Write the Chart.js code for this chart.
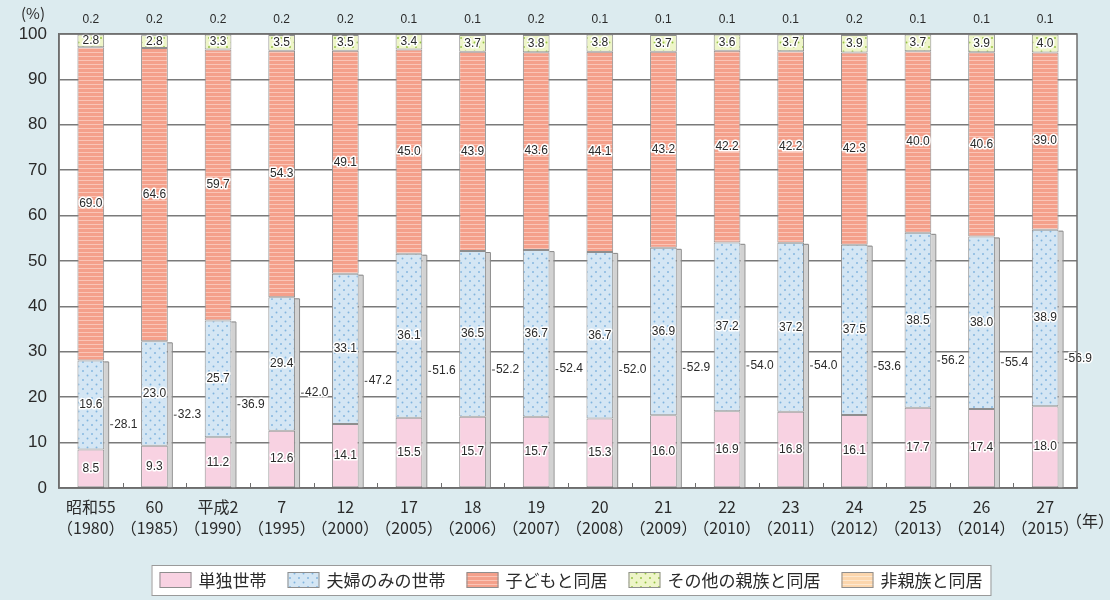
<!DOCTYPE html>
<html>
<head>
<meta charset="utf-8">
<script src="https://cdn.jsdelivr.net/npm/chart.js@4/dist/chart.umd.min.js"></script>
<style>
  html, body { margin: 0; padding: 0; background: #dcebef; }
  #wrap { width: 1110px; height: 600px; }
</style>
</head>
<body>
<div id="wrap"><canvas id="c" width="1110" height="600"></canvas></div>
<script>
// 世帯構造別 65歳以上の者のいる世帯の構成割合 (%)
const eraLabels  = ['昭和55', '60', '平成2', '7', '12', '17', '18', '19', '20', '21', '22', '23', '24', '25', '26', '27'];
const yearLabels = ['1980', '1985', '1990', '1995', '2000', '2005', '2006', '2007', '2008', '2009', '2010', '2011', '2012', '2013', '2014', '2015'];

const single         = [8.5, 9.3, 11.2, 12.6, 14.1, 15.5, 15.7, 15.7, 15.3, 16.0, 16.9, 16.8, 16.1, 17.7, 17.4, 18.0];
const coupleOnly     = [19.6, 23.0, 25.7, 29.4, 33.1, 36.1, 36.5, 36.7, 36.7, 36.9, 37.2, 37.2, 37.5, 38.5, 38.0, 38.9];
const withChildren   = [69.0, 64.6, 59.7, 54.3, 49.1, 45.0, 43.9, 43.6, 44.1, 43.2, 42.2, 42.2, 42.3, 40.0, 40.6, 39.0];
const otherRelatives = [2.8, 2.8, 3.3, 3.5, 3.5, 3.4, 3.7, 3.8, 3.8, 3.7, 3.6, 3.7, 3.9, 3.7, 3.9, 4.0];
const nonRelatives   = [0.2, 0.2, 0.2, 0.2, 0.2, 0.1, 0.1, 0.2, 0.1, 0.1, 0.1, 0.1, 0.2, 0.1, 0.1, 0.1];
// 単独世帯＋夫婦のみの世帯
const singleAndCouple = [28.1, 32.3, 36.9, 42.0, 47.2, 51.6, 52.2, 52.4, 52.0, 52.9, 54.0, 54.0, 53.6, 56.2, 55.4, 56.9];

const yTicks = [0, 10, 20, 30, 40, 50, 60, 70, 80, 90, 100];
const seriesNames = ['単独世帯', '夫婦のみの世帯', '子どもと同居', 'その他の親族と同居', '非親族と同居'];

const NUM_FONT = "'Liberation Sans Narrow', 'Liberation Sans', Arial, sans-serif";
const JP_FONT = "'Noto Sans CJK JP', 'Noto Sans', sans-serif";
const TEXT = '#2a2a2a';

// fill patterns
function tile(w, h, base, paint) {
  const cv = document.createElement('canvas');
  cv.width = w; cv.height = h;
  const g = cv.getContext('2d');
  g.fillStyle = base; g.fillRect(0, 0, w, h);
  paint(g);
  return g.createPattern(cv, 'repeat');
}
function dots(color) {
  return g => {
    g.fillStyle = color;
    [[2, 2], [6.5, 6.5]].forEach(([x, y]) => { g.beginPath(); g.arc(x, y, 0.95, 0, Math.PI * 2); g.fill(); });
  };
}
function stripes(color) {
  return g => { g.fillStyle = color; g.fillRect(0, 0, 4, 1); };
}
const pinkFill   = '#f8d2e2';
const blueFill   = tile(9, 9, '#d4e6f4', dots('#80b4de'));
const salmonFill = tile(4, 4, '#f4a08b', stripes('#fac5b7'));
const greenFill  = tile(9, 9, '#eef5c8', dots('#94c142'));
const orangeFill = tile(4, 4, '#fcd6ad', stripes('#fde8d0'));

const fills = [pinkFill, blueFill, salmonFill, greenFill, orangeFill];
const seriesData = [single, coupleOnly, withChildren, otherRelatives, nonRelatives];

const datasets = seriesData.map((d, i) => ({
  label: seriesNames[i],
  data: d,
  backgroundColor: fills[i],
  borderColor: '#8e8e8e',
  borderWidth: 1,
  borderSkipped: false,
  categoryPercentage: 1.0,
  barPercentage: 0.42
}));

function haloText(ctx, text, x, y) {
  ctx.lineJoin = 'round';
  ctx.strokeStyle = '#ffffff';
  ctx.lineWidth = 3;
  ctx.strokeText(text, x, y);
  ctx.fillStyle = TEXT;
  ctx.fillText(text, x, y);
}

// background and white plot area
const backdrop = {
  id: 'backdrop',
  beforeDraw(chart) {
    const { ctx, chartArea: a } = chart;
    ctx.save();
    ctx.fillStyle = '#dcebef';
    ctx.fillRect(0, 0, chart.width, chart.height);
    ctx.fillStyle = '#ffffff';
    ctx.fillRect(a.left, a.top, a.right - a.left, a.bottom - a.top);
    ctx.restore();
  }
};

// grey side strip next to 単独世帯＋夫婦のみの世帯
const sideStrip = {
  id: 'sideStrip',
  beforeDatasetsDraw(chart) {
    const { ctx } = chart;
    const y = chart.scales.y;
    const meta = chart.getDatasetMeta(1);
    ctx.save();
    meta.data.forEach((bar, i) => {
      const right = bar.x + bar.width / 2;
      const top = y.getPixelForValue(singleAndCouple[i]) + 1;
      const bottom = y.getPixelForValue(0);
      ctx.fillStyle = '#d2d2d2';
      ctx.fillRect(right, top, 4, bottom - top);
      ctx.strokeStyle = '#8a8a8a';
      ctx.lineWidth = 1;
      ctx.beginPath();
      ctx.moveTo(right, top + 0.5);
      ctx.lineTo(right + 4.5, top + 0.5);
      ctx.lineTo(right + 4.5, bottom);
      ctx.stroke();
    });
    ctx.restore();
  }
};

// value labels, frame, axis notes and legend
const annotations = {
  id: 'annotations',
  afterDatasetsDraw(chart) {
    const { ctx, chartArea: a } = chart;
    const y = chart.scales.y;
    ctx.save();
    ctx.font = '12px ' + NUM_FONT;
    ctx.textAlign = 'center';
    ctx.textBaseline = 'middle';
    // segment labels
    for (let ds = 0; ds < 4; ds++) {
      chart.getDatasetMeta(ds).data.forEach((bar, i) => {
        const v = seriesData[ds][i];
        const top = Math.max(bar.y, a.top);
        const cy = (top + bar.base) / 2;
        haloText(ctx, v.toFixed(1), bar.x, cy);
      });
    }
    // 非親族と同居 above the bars
    chart.getDatasetMeta(4).data.forEach((bar, i) => {
      ctx.fillStyle = TEXT;
      ctx.fillText(nonRelatives[i].toFixed(1), bar.x, a.top - 14);
    });
    // combined single + couple labels
    ctx.textAlign = 'left';
    chart.getDatasetMeta(1).data.forEach((bar, i) => {
      const right = bar.x + bar.width / 2 + 5;
      const cy = (y.getPixelForValue(singleAndCouple[i]) + y.getPixelForValue(0)) / 2;
      ctx.strokeStyle = '#444';
      ctx.lineWidth = 1;
      ctx.beginPath();
      ctx.moveTo(right + 1, cy + 0.5);
      ctx.lineTo(right + 4, cy + 0.5);
      ctx.stroke();
      haloText(ctx, singleAndCouple[i].toFixed(1), right + 5, cy);
    });
    ctx.restore();
  },
  afterDraw(chart) {
    const { ctx, chartArea: a } = chart;
    const x = chart.scales.x;
    ctx.save();
    // plot frame
    ctx.strokeStyle = '#6e6e6e';
    ctx.lineWidth = 1.5;
    ctx.strokeRect(a.left, a.top, a.right - a.left, a.bottom - a.top);
    // small ticks between categories
    ctx.lineWidth = 1;
    for (let i = 1; i < eraLabels.length; i++) {
      const px = Math.round((x.getPixelForValue(i - 1) + x.getPixelForValue(i)) / 2) + 0.5;
      ctx.beginPath();
      ctx.moveTo(px, a.bottom);
      ctx.lineTo(px, a.bottom - 5);
      ctx.stroke();
    }
    // unit notes
    ctx.fillStyle = TEXT;
    ctx.font = '15px ' + JP_FONT;
    ctx.textAlign = 'center';
    ctx.textBaseline = 'middle';
    ctx.fillText('(%)', 33, 13);
    ctx.font = '16px ' + JP_FONT;
    ctx.fillText('（年）', 1090, 521);

    // legend
    const fontPx = 17;
    ctx.font = fontPx + 'px ' + JP_FONT;
    const boxW = 32, boxH = 16, textGap = 7, itemGap = 21;
    const widths = seriesNames.map(n => boxW + textGap + ctx.measureText(n).width);
    const total = widths.reduce((s, w) => s + w, 0) + itemGap * (seriesNames.length - 1);
    const cx = 571, cy = 580;
    let lx = cx - total / 2;
    ctx.fillStyle = '#ffffff';
    ctx.fillRect(lx - 8, 565, total + 16, 30);
    ctx.strokeStyle = '#9a9a9a';
    ctx.lineWidth = 1;
    ctx.strokeRect(lx - 8 + 0.5, 565.5, total + 16, 30);
    ctx.textAlign = 'left';
    seriesNames.forEach((name, i) => {
      ctx.fillStyle = fills[i];
      ctx.fillRect(lx, cy - boxH / 2, boxW, boxH);
      ctx.strokeStyle = '#8e8e8e';
      ctx.strokeRect(lx + 0.5, cy - boxH / 2 + 0.5, boxW - 1, boxH - 1);
      ctx.fillStyle = TEXT;
      ctx.fillText(name, lx + boxW + textGap, cy + 1);
      lx += widths[i] + itemGap;
    });
    ctx.restore();
  }
};

new Chart(document.getElementById('c'), {
  type: 'bar',
  data: {
    labels: eraLabels.map((e, i) => [e, '（' + yearLabels[i] + '）']),
    datasets
  },
  options: {
    responsive: false,
    animation: false,
    layout: { padding: { top: 34, right: 33, bottom: 62, left: 0 } },
    plugins: { legend: { display: false }, tooltip: { enabled: false } },
    scales: {
      x: {
        stacked: true,
        grid: { display: false },
        border: { display: true, color: '#6e6e6e', width: 1.5 },
        ticks: { color: TEXT, font: { size: 16, family: JP_FONT, lineHeight: 1.3 }, padding: 1, maxRotation: 0, autoSkip: false },
        afterFit(s) { s.height = 50; }
      },
      y: {
        stacked: true,
        min: 0,
        max: 100,
        afterBuildTicks(s) { s.ticks = yTicks.map(v => ({ value: v })); },
        grid: { color: '#7a7a7a', lineWidth: 1.5, drawTicks: false },
        border: { display: true, color: '#6e6e6e', width: 1.5 },
        ticks: { color: TEXT, font: { size: 17, family: "'Liberation Sans', Arial, sans-serif" }, padding: 12 },
        afterFit(s) { s.width = 59; }
      }
    }
  },
  plugins: [backdrop, sideStrip, annotations]
});
</script>
</body>
</html>
